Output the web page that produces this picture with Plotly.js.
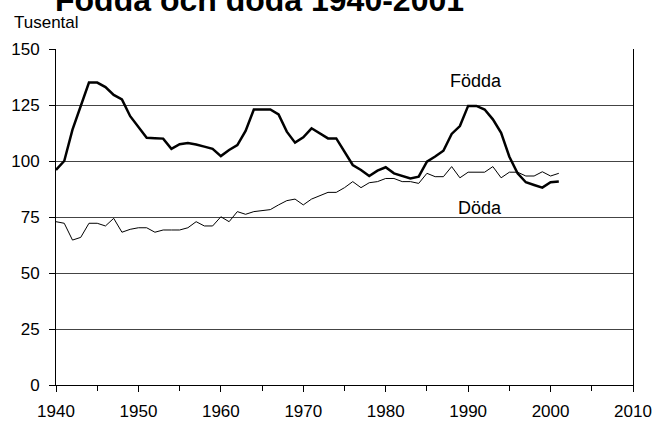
<!DOCTYPE html>
<html>
<head>
<meta charset="utf-8">
<script src="https://cdn.plot.ly/plotly-3.0.1.min.js"></script>
<style>html,body{margin:0;padding:0;background:#fff;}#chart{width:655px;height:423px;}</style>
</head>
<body>
<div id="chart"></div>
<script>
const years = [1940,1941,1942,1943,1944,1945,1946,1947,1948,1949,
  1950,1951,1952,1953,1954,1955,1956,1957,1958,1959,
  1960,1961,1962,1963,1964,1965,1966,1967,1968,1969,
  1970,1971,1972,1973,1974,1975,1976,1977,1978,1979,
  1980,1981,1982,1983,1984,1985,1986,1987,1988,1989,
  1990,1991,1992,1993,1994,1995,1996,1997,1998,1999,
  2000,2001];
const fodda = [96,100,114,125,135,135,133,129.5,127.5,120,
  115,110.4,110.2,110,105.4,107.5,108,107.4,106.4,105.4,
  102.2,104.9,107.1,113.4,123,123,123,120.8,113.1,108.2,
  110.6,114.6,112.4,110.1,110.1,104.2,98.2,96,93.3,95.7,
  97.2,94.5,93.3,92.2,93,99.7,102,104.6,112.1,115.6,
  124.6,124.6,123,118.6,112.6,101.9,94.5,90.5,89.3,88.1,
  90.5,90.8];
const doda = [72.9,72.2,64.7,65.9,72.2,72.2,71,74.4,68.2,69.5,
  70.2,70.2,68.2,69.2,69.2,69.2,70.2,72.9,71,71,
  75.1,72.9,77.4,76.2,77.4,78,78.3,80.4,82.3,83,
  80.4,83,84.5,86,86,88.1,90.8,88.1,90.3,90.8,
  92.2,92.2,90.8,90.8,90,94.5,93,93,97.5,92.5,
  95,95,95,97.5,92.5,95,95,93.3,93.3,95.2,
  93.3,94.5];
const xTicks = [1940,1950,1960,1970,1980,1990,2000,2010];
const yTicks = [0,25,50,75,100,125,150];
const titleText = "Födda och döda 1940-2001";
const unitText = "Tusental";
const seriesNames = ["Födda","Döda"];

const font = "Liberation Sans, Arial, Helvetica, sans-serif";

const traces = [
  {x: years, y: fodda, type: "scatter", mode: "lines", name: seriesNames[0],
   line: {color: "#000", width: 2.5}},
  {x: years, y: doda, type: "scatter", mode: "lines", name: seriesNames[1],
   line: {color: "#000", width: 1}}
];

const layout = {
  width: 655, height: 423,
  margin: {l: 56, r: 22, t: 49, b: 38},
  paper_bgcolor: "#fff", plot_bgcolor: "#fff",
  showlegend: false,
  font: {family: font, size: 17, color: "#000"},
  xaxis: {
    range: [1940, 2010], tickvals: xTicks, ticktext: xTicks.map(String),
    showgrid: false, zeroline: false,
    showline: true, linecolor: "#000", linewidth: 1,
    ticks: "outside", ticklen: 6, tickcolor: "#000", tickwidth: 1,
    minor: {dtick: 5, tick0: 1940, ticks: "outside", ticklen: 5, tickcolor: "#000", showgrid: false},
    tickfont: {family: font, size: 17, color: "#000"},
    ticklabelstandoff: 5,
    fixedrange: true
  },
  yaxis: {
    range: [0, 150], tickvals: yTicks, ticktext: yTicks.map(String),
    showgrid: true, gridcolor: "#444", gridwidth: 1,
    zeroline: false,
    showline: true, linecolor: "#000", linewidth: 1, mirror: true,
    ticks: "outside", ticklen: 6, tickcolor: "#000", tickwidth: 1,
    tickfont: {family: font, size: 17, color: "#000"},
    ticklabelstandoff: 6,
    fixedrange: true
  },
  annotations: [
    {text: "<b>" + titleText + "</b>", xref: "paper", yref: "paper",
     x: -0.005, y: 1, xanchor: "left", yanchor: "middle", yshift: 49,
     showarrow: false, font: {family: font, size: 32, color: "#000"}},
    {text: unitText, xref: "paper", yref: "paper",
     x: -0.0763, y: 1, xanchor: "left", yanchor: "middle", yshift: 27,
     showarrow: false, font: {family: font, size: 17, color: "#000"}},
    {text: seriesNames[0], xref: "x", yref: "y", x: 1990.95, y: 135.5,
     xanchor: "center", yanchor: "middle", showarrow: false,
     font: {family: font, size: 18, color: "#000"}},
    {text: seriesNames[1], xref: "x", yref: "y", x: 1991.4, y: 79.2,
     xanchor: "center", yanchor: "middle", showarrow: false,
     font: {family: font, size: 18, color: "#000"}}
  ]
};

Plotly.newPlot("chart", traces, layout, {displayModeBar: false, staticPlot: true});
</script>
</body>
</html>
